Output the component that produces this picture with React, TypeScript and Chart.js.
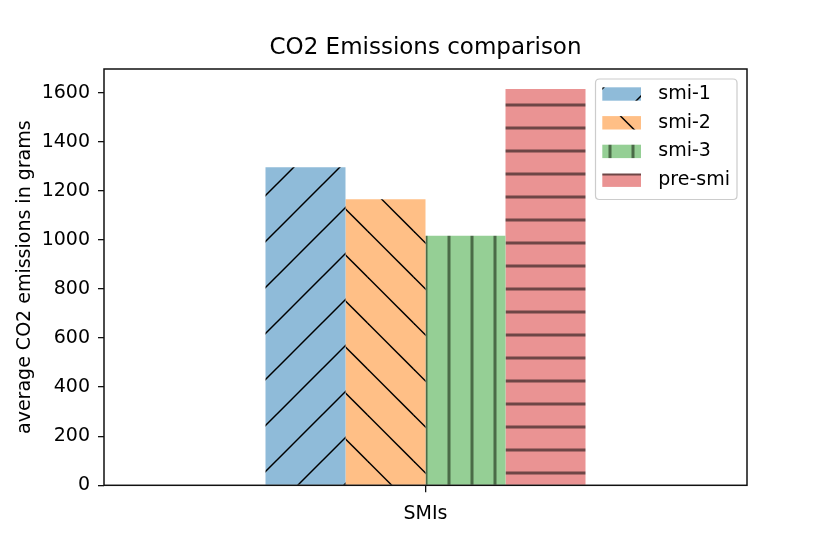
import React, { useEffect, useRef } from "react";
import { Chart, registerables } from "chart.js";

Chart.register(...registerables);

const TITLE = "CO2 Emissions comparison";
const Y_LABEL = "average CO2 emissions in grams";
const CATEGORIES = ["SMIs"];
const SERIES_LABELS = ["smi-1", "smi-2", "smi-3", "pre-smi"];
const SMI1 = [1296];
const SMI2 = [1165];
const SMI3 = [1017];
const PRE_SMI = [1615];
const Y_TICKS = [0, 200, 400, 600, 800, 1000, 1200, 1400, 1600];
const Y_MAX = 1696;

const FONT = "'DejaVu Sans', 'Liberation Sans', sans-serif";

function makeTile(size: number, draw: (c: CanvasRenderingContext2D) => void) {
  const cv = document.createElement("canvas");
  cv.width = size;
  cv.height = size;
  const c = cv.getContext("2d")!;
  draw(c);
  return cv;
}

function diagPattern(ctx: CanvasRenderingContext2D, bg: string, dir: "/" | "\\") {
  const P = 46;
  const tile = makeTile(P, (c) => {
    c.fillStyle = bg;
    c.fillRect(0, 0, P, P);
    c.strokeStyle = "#000";
    c.lineWidth = 1.5;
    for (let k = -2; k <= 3; k++) {
      c.beginPath();
      if (dir === "/") {
        const s = 1 + P * k;
        c.moveTo(-20, s + 20);
        c.lineTo(P + 20, s - P - 20);
      } else {
        const s = 1.5 + P * k;
        c.moveTo(-20, s - 20);
        c.lineTo(P + 20, s + P + 20);
      }
      c.stroke();
    }
  });
  return ctx.createPattern(tile, "repeat")!;
}

function vertPattern(ctx: CanvasRenderingContext2D, bg: string, fg: string) {
  const P = 23;
  const tile = makeTile(P, (c) => {
    c.fillStyle = bg;
    c.fillRect(0, 0, P, P);
    c.fillStyle = fg;
    c.fillRect(12 - 1.5, 0, 3, P);
  });
  return ctx.createPattern(tile, "repeat")!;
}

function horizPattern(ctx: CanvasRenderingContext2D, bg: string, fg: string) {
  const P = 23;
  const tile = makeTile(P, (c) => {
    c.fillStyle = bg;
    c.fillRect(0, 0, P, P);
    c.fillStyle = fg;
    c.fillRect(0, 13 - 1.5, P, 3);
  });
  return ctx.createPattern(tile, "repeat")!;
}

const framePlugin = {
  id: "mplFrame",
  afterDatasetsDraw(chart: any) {
    const { ctx, chartArea } = chart;
    ctx.save();
    ctx.strokeStyle = "#111";
    ctx.lineWidth = 1.5;
    ctx.strokeRect(chartArea.left, chartArea.top, chartArea.right - chartArea.left, chartArea.bottom - chartArea.top);
    ctx.restore();
  },
};

const titlePlugin = {
  id: "mplTitle",
  afterDraw(chart: any) {
    const { ctx, chartArea } = chart;
    ctx.save();
    ctx.fillStyle = "#000";
    ctx.font = `23px ${FONT}`;
    ctx.textAlign = "center";
    ctx.textBaseline = "middle";
    ctx.fillText(TITLE, (chartArea.left + chartArea.right) / 2, 48.2);
    ctx.restore();
  },
};

const legendPlugin = {
  id: "mplLegend",
  afterDraw(chart: any) {
    const { ctx } = chart;
    const x0 = 595.5, y0 = 79, x1 = 737, y1 = 199.5, r = 4;
    ctx.save();
    ctx.beginPath();
    ctx.moveTo(x0 + r, y0);
    ctx.lineTo(x1 - r, y0);
    ctx.quadraticCurveTo(x1, y0, x1, y0 + r);
    ctx.lineTo(x1, y1 - r);
    ctx.quadraticCurveTo(x1, y1, x1 - r, y1);
    ctx.lineTo(x0 + r, y1);
    ctx.quadraticCurveTo(x0, y1, x0, y1 - r);
    ctx.lineTo(x0, y0 + r);
    ctx.quadraticCurveTo(x0, y0, x0 + r, y0);
    ctx.closePath();
    ctx.fillStyle = "rgba(255,255,255,0.8)";
    ctx.fill();
    ctx.strokeStyle = "#cccccc";
    ctx.lineWidth = 1.2;
    ctx.stroke();
    const rowY = [94, 122.8, 151.4, 180.2];
    chart.data.datasets.forEach((ds: any, i: number) => {
      const cy = rowY[i];
      ctx.fillStyle = ds.backgroundColor;
      ctx.fillRect(602.3, cy - 6.7, 38.7, 13.4);
      ctx.fillStyle = "#000";
      ctx.font = `19px ${FONT}`;
      ctx.textBaseline = "middle";
      ctx.textAlign = "left";
      ctx.fillText(ds.label, 658.3, cy);
    });
    ctx.restore();
  },
};

export default function App() {
  const ref = useRef<HTMLCanvasElement>(null);

  useEffect(() => {
    document.body.style.margin = "0";
    const canvas = ref.current!;
    const ctx = canvas.getContext("2d")!;
    const fills = [
      diagPattern(ctx, "#8fbbd9", "/"),
      diagPattern(ctx, "#ffbf86", "\\"),
      vertPattern(ctx, "#95cf95", "#4a6b47"),
      horizPattern(ctx, "#ea9393", "#6e4646"),
    ];
    const values = [SMI1, SMI2, SMI3, PRE_SMI];
    const chart = new Chart(canvas, {
      type: "bar",
      data: {
        labels: CATEGORIES,
        datasets: SERIES_LABELS.map((label, i) => ({
          label,
          data: values[i],
          backgroundColor: fills[i] as any,
          borderWidth: 0,
          categoryPercentage: 0.4977,
          barPercentage: 1.0,
        })),
      },
      options: {
        animation: false,
        responsive: false,
        devicePixelRatio: 1,
        layout: { padding: { top: 69, left: 0, right: 83, bottom: 0 } },
        plugins: {
          legend: { display: false },
          tooltip: { enabled: false },
          title: { display: false },
        },
        scales: {
          x: {
            type: "category",
            offset: true,
            afterFit: (s: any) => {
              s.height = 554 - 485.3;
            },
            grid: {
              offset: false,
              drawOnChartArea: false,
              drawTicks: true,
              tickLength: 7,
              color: "#111",
              lineWidth: 1.3,
            },
            border: { display: false },
            ticks: {
              color: "#000",
              font: { family: FONT, size: 19 },
              padding: 10.5,
            },
          },
          y: {
            min: 0,
            max: Y_MAX,
            afterFit: (s: any) => {
              s.width = 104;
            },
            afterBuildTicks: (s: any) => {
              s.ticks = Y_TICKS.map((v) => ({ value: v }));
            },
            grid: {
              drawOnChartArea: false,
              drawTicks: true,
              tickLength: 6,
              color: "#111",
              lineWidth: 1.3,
            },
            border: { display: false },
            ticks: {
              color: "#000",
              font: { family: FONT, size: 19 },
              padding: 8,
              autoSkip: false,
              callback: (v: any) => String(v),
            },
            title: {
              display: true,
              text: Y_LABEL,
              color: "#000",
              font: { family: FONT, size: 19 },
              padding: { top: 13.6, bottom: 0 },
            },
          },
        },
      },
      plugins: [framePlugin, titlePlugin, legendPlugin],
    });
    return () => chart.destroy();
  }, []);

  return (
    <div style={{ position: "fixed", left: 0, top: 0, width: 830, height: 554, background: "#fff" }}>
      <canvas ref={ref} width={830} height={554} style={{ width: 830, height: 554, display: "block" }} />
    </div>
  );
}
